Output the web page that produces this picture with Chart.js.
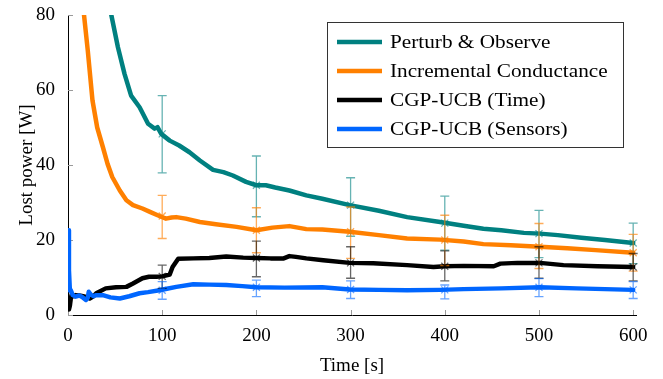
<!DOCTYPE html>
<html lang="en">
<head>
<meta charset="UTF-8">
<title>Lost power</title>
<script src="https://cdn.jsdelivr.net/npm/chart.js"></script>
<style>
  body { margin: 0; background: #fff; }
  #graph { display: block; }
</style>
</head>
<body>
<canvas id="graph" width="663" height="379"></canvas>
<script>
// --- values ---
const tealT = [0, 10, 20, 30, 40, 46, 53, 60, 67, 76, 85, 92, 95, 99, 108, 118, 129, 140, 154, 165, 175, 189, 200, 210, 220, 235, 253, 270, 299, 330, 360, 395, 420, 441, 460, 484, 501, 520, 545, 570, 600];
const tealV = [220, 170, 130, 105, 88, 80, 71.4, 64.3, 58.5, 55.4, 51.0, 49.7, 50.1, 48.3, 46.5, 45.2, 43.4, 41.2, 38.7, 38.1, 37.2, 35.5, 34.6, 34.6, 34.0, 33.2, 31.9, 31.0, 29.3, 27.8, 26.1, 24.8, 23.8, 23.0, 22.6, 21.9, 21.7, 21.3, 20.6, 20.0, 19.2];

const orangeT = [0, 10, 17, 21, 26, 31, 37, 42, 47, 55, 62, 69, 79, 87, 97, 104, 110, 115, 125, 140, 157, 179, 200, 217, 235, 253, 270, 299, 330, 360, 395, 420, 441, 470, 501, 530, 560, 600];
const orangeV = [200, 120, 80, 70.5, 57.2, 50.0, 44.8, 40.3, 36.8, 33.2, 30.6, 29.3, 28.4, 27.5, 26.4, 25.7, 26.0, 26.1, 25.7, 24.8, 24.2, 23.5, 22.6, 23.3, 23.7, 22.9, 22.8, 22.2, 21.3, 20.4, 20.1, 19.6, 18.9, 18.6, 18.2, 17.8, 17.3, 16.6];

const blackT = [0, 1, 2, 3, 4, 6, 8, 12, 16, 19, 23, 27, 30, 40, 51, 62, 69, 79, 86, 94, 100, 108, 111, 117, 133, 150, 168, 186, 200, 215, 229, 235, 242, 253, 271, 299, 324, 360, 388, 400, 420, 452, 459, 477, 501, 526, 562, 600];
const blackV = [3.0, 1.5, 2.5, 4.5, 5.5, 5.0, 5.3, 5.2, 5.0, 4.8, 4.4, 5.0, 5.8, 7.1, 7.4, 7.5, 8.4, 9.8, 10.2, 10.2, 10.3, 10.8, 12.8, 15.0, 15.1, 15.2, 15.6, 15.3, 15.2, 15.1, 15.1, 15.7, 15.5, 15.1, 14.6, 13.9, 13.8, 13.3, 12.8, 13.0, 13.1, 13.0, 13.7, 13.9, 13.9, 13.3, 13.0, 12.8];

const blueT = [0, 1, 2, 3, 5, 8, 12, 15, 19, 21, 22, 24, 27, 30, 37, 45, 55, 65, 76, 85, 97, 105, 115, 133, 150, 168, 185, 200, 230, 270, 299, 330, 360, 395, 420, 460, 501, 540, 570, 600];
const blueV = [22.6, 12.0, 6.5, 6.6, 5.3, 4.9, 5.2, 4.8, 4.0, 4.6, 6.2, 5.5, 5.0, 5.3, 5.3, 4.7, 4.4, 5.0, 5.8, 6.1, 6.6, 7.0, 7.5, 8.2, 8.1, 8.0, 7.7, 7.4, 7.3, 7.4, 6.8, 6.7, 6.6, 6.7, 6.9, 7.1, 7.4, 7.1, 6.9, 6.7];

// error bars every 100 s
const errX = [100, 200, 300, 400, 500, 600];
const tealMid = [48.3, 34.6, 29.3, 24.5, 21.7, 19.2];
const tealLo = [37.9, 26.2, 21.0, 17.3, 15.3, 13.7];
const tealHi = [58.5, 42.4, 36.6, 31.7, 27.9, 24.5];
const orangeMid = [26.4, 22.6, 22.2, 20.0, 18.2, 16.6];
const orangeLo = [20.4, 16.6, 15.1, 13.2, 12.4, 11.7];
const orangeHi = [31.9, 28.6, 28.8, 26.6, 24.4, 21.5];
const blackMid = [10.3, 15.2, 13.9, 13.0, 13.9, 12.8];
const blackLo = [7.1, 10.2, 9.8, 9.1, 9.8, 9.1];
const blackHi = [13.3, 19.7, 18.2, 17.1, 18.2, 16.4];
const blueMid = [6.6, 7.4, 6.8, 6.7, 7.4, 6.7];
const blueLo = [4.2, 4.9, 4.4, 4.3, 4.9, 4.4];
const blueHi = [8.9, 9.3, 9.1, 8.0, 9.7, 8.9];

const labels = ['Perturb & Observe', 'Incremental Conductance', 'CGP-UCB (Time)', 'CGP-UCB (Sensors)'];
const xTicks = [0, 100, 200, 300, 400, 500, 600];
const yTicks = [0, 20, 40, 60, 80];

const serif = "'Liberation Serif', 'Times New Roman', serif";

function pts(t, v) {
    return t.map((x, i) => ({ x: x, y: v[i] }));
}

function series(label, t, v, color, errColor, mid, lo, hi, order) {
    return {
        label: label,
        data: pts(t, v),
        borderColor: color,
        backgroundColor: color,
        borderWidth: 4.5,
        pointRadius: 0,
        tension: 0,
        borderJoinStyle: 'round',
        borderCapStyle: 'round',
        clip: 0,
        order: order,
        errColor: errColor,
        errMid: mid,
        errLo: lo,
        errHi: hi
    };
}

// error bars + x marks, through the chart scales
const errorBars = {
    id: 'errorBars',
    afterDatasetsDraw(chart) {
        const { ctx, scales } = chart;
        const xs = scales.x, ys = scales.y;
        ctx.save();
        chart.data.datasets.forEach(ds => {
            errX.forEach((xv, i) => {
                const px = xs.getPixelForValue(xv);
                const top = ys.getPixelForValue(ds.errHi[i]);
                const bot = ys.getPixelForValue(ds.errLo[i]);
                const mid = ys.getPixelForValue(ds.errMid[i]);
                ctx.strokeStyle = ds.errColor;
                ctx.lineWidth = 1.3;
                ctx.beginPath();
                ctx.moveTo(px, top); ctx.lineTo(px, bot);
                ctx.moveTo(px - 4.5, top); ctx.lineTo(px + 4.5, top);
                ctx.moveTo(px - 4.5, bot); ctx.lineTo(px + 4.5, bot);
                ctx.stroke();
                // cross mark
                ctx.beginPath();
                ctx.moveTo(px - 3.5, mid - 3.5); ctx.lineTo(px + 3.5, mid + 3.5);
                ctx.moveTo(px - 3.5, mid + 3.5); ctx.lineTo(px + 3.5, mid - 3.5);
                ctx.stroke();
            });
        });
        ctx.restore();
    }
};

// small inward tick marks like the original
const innerTicks = {
    id: 'innerTicks',
    beforeDatasetsDraw(chart) {
        const { ctx, scales, chartArea } = chart;
        ctx.save();
        ctx.strokeStyle = '#9a9a9a';
        ctx.lineWidth = 1;
        ctx.beginPath();
        xTicks.forEach(v => {
            const px = Math.round(scales.x.getPixelForValue(v)) + 0.5;
            ctx.moveTo(px, chartArea.bottom);
            ctx.lineTo(px, chartArea.bottom - 5);
        });
        yTicks.forEach(v => {
            const py = Math.round(scales.y.getPixelForValue(v)) + 0.5;
            ctx.moveTo(chartArea.left, py);
            ctx.lineTo(chartArea.left + 5, py);
        });
        ctx.stroke();
        ctx.restore();
    }
};

// boxed legend in the upper right corner
const boxLegend = {
    id: 'boxLegend',
    afterDraw(chart) {
        const { ctx, chartArea } = chart;
        const w = 296, h = 125;
        const left = chartArea.right - 13 - w;
        const top = chartArea.top + 7;
        ctx.save();
        ctx.fillStyle = '#fff';
        ctx.fillRect(left, top, w, h);
        ctx.strokeStyle = '#333';
        ctx.lineWidth = 1;
        ctx.strokeRect(Math.round(left) + 0.5, Math.round(top) + 0.5, w, h);
        chart.data.datasets.forEach((ds, i) => {
            const y = top + 20 + i * 29;
            ctx.strokeStyle = ds.borderColor;
            ctx.lineWidth = 4.5;
            ctx.beginPath();
            ctx.moveTo(left + 10, y);
            ctx.lineTo(left + 55, y);
            ctx.stroke();
            ctx.save();
            ctx.translate(left + 63, y);
            ctx.scale(1.18, 1);
            ctx.fillStyle = '#000';
            ctx.font = '18px ' + serif;
            ctx.textBaseline = 'middle';
            ctx.fillText(ds.label, 0, 1);
            ctx.restore();
        });
        ctx.restore();
    }
};

new Chart(document.getElementById('graph').getContext('2d'), {
    type: 'line',
    data: {
        datasets: [
            series(labels[0], tealT, tealV, '#008080', 'rgba(0,128,128,0.6)', tealMid, tealLo, tealHi, 3),
            series(labels[1], orangeT, orangeV, '#ff8000', 'rgba(255,128,0,0.65)', orangeMid, orangeLo, orangeHi, 2),
            series(labels[2], blackT, blackV, '#000000', 'rgba(0,0,0,0.6)', blackMid, blackLo, blackHi, 1),
            series(labels[3], blueT, blueV, '#0066ff', 'rgba(0,102,255,0.6)', blueMid, blueLo, blueHi, 0)
        ]
    },
    options: {
        responsive: false,
        animation: false,
        layout: { padding: { top: 15, right: 27, left: 0, bottom: 0 } },
        plugins: {
            legend: { display: false },
            tooltip: { enabled: false }
        },
        scales: {
            x: {
                type: 'linear',
                min: 0,
                max: 603,
                grid: { display: false, drawTicks: false },
                border: { display: true, color: '#000', width: 1 },
                ticks: {
                    padding: 10,
                    color: '#000',
                    maxRotation: 0,
                    font: { family: serif, size: 19 }
                },
                afterBuildTicks(scale) {
                    scale.ticks = xTicks.map(v => ({ value: v }));
                },
                title: {
                    display: true,
                    text: 'Time [s]',
                    color: '#000',
                    padding: { top: 0, bottom: 2 },
                    font: { family: serif, size: 19 }
                },
                afterFit(scale) { scale.height = 64; }
            },
            y: {
                min: 0,
                max: 80,
                grid: { display: false, drawTicks: false },
                border: { display: true, color: '#000', width: 1 },
                ticks: {
                    padding: 13,
                    color: '#000',
                    font: { family: serif, size: 19 }
                },
                afterBuildTicks(scale) {
                    scale.ticks = yTicks.map(v => ({ value: v }));
                },
                title: {
                    display: true,
                    text: 'Lost power [W]',
                    color: '#000',
                    padding: { top: 16, bottom: 0 },
                    font: { family: serif, size: 19 }
                },
                afterFit(scale) {
                    scale.width = 68;
                    scale.paddingTop = 0;
                    scale.paddingBottom = 0;
                }
            }
        }
    },
    plugins: [innerTicks, errorBars, boxLegend]
});
</script>
</body>
</html>
